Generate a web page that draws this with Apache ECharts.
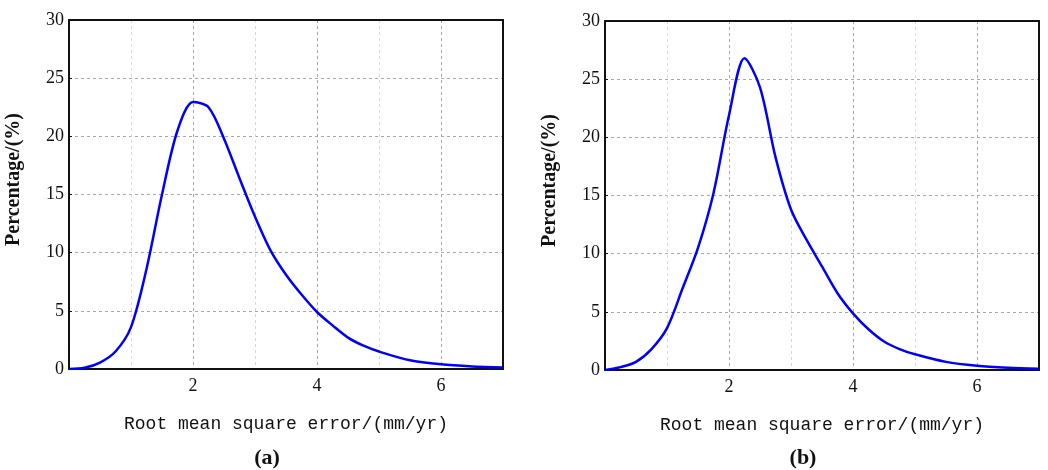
<!DOCTYPE html>
<html>
<head>
<meta charset="utf-8">
<script src="https://cdn.jsdelivr.net/npm/echarts@6/dist/echarts.min.js"></script>
<style>
  html, body { margin: 0; padding: 0; background: #fff; }
  #chart { width: 1048px; height: 470px; }
</style>
</head>
<body>
<div id="chart"></div>
<script>
// RMSE sample positions (mm/yr), shared by both panels
const rmse = [0, 0.25, 0.5, 0.75, 1.0, 1.25, 1.5, 1.75, 2.0, 2.25, 2.5, 2.75, 3.0, 3.25, 3.5, 3.75, 4.0, 4.25, 4.5, 4.75, 5.0, 5.5, 6.0, 6.5, 7.0];

// Panel (a) percentages
const pctA = [0, 0.1, 0.55, 1.5, 3.6, 8.6, 15, 20.5, 22.95, 22.5, 19.8, 16.4, 13.1, 10.2, 8.1, 6.4, 4.9, 3.75, 2.7, 2.0, 1.5, 0.75, 0.4, 0.22, 0.12];

// Panel (b) percentages
const pctB = [0, 0.25, 0.7, 1.8, 3.6, 7.0, 10.5, 15.2, 21.9, 26.8, 24.3, 18.3, 13.8, 11.2, 8.9, 6.6, 4.87, 3.5, 2.45, 1.8, 1.35, 0.7, 0.37, 0.2, 0.1];

const xLabels = [2, 4, 6];
const panelTags = ['a', 'b'];
const xTitle = 'Root mean square error/(mm/yr)';
const yTitle = 'Percentage/(%)';

const chart = echarts.init(document.getElementById('chart'));

function makeXAxis(gridIndex) {
  return {
    type: 'value',
    gridIndex: gridIndex,
    min: 0,
    max: 7,
    interval: 1,
    name: xTitle,
    nameLocation: 'middle',
    nameGap: 46,
    nameTextStyle: { fontFamily: 'Liberation Mono', fontSize: 18, color: '#111' },
    axisLine: { lineStyle: { color: '#111', width: 2 } },
    axisTick: { show: false },
    axisLabel: {
      fontFamily: 'Liberation Serif',
      fontSize: 18,
      color: '#111',
      margin: 8,
      formatter: v => (xLabels.indexOf(v) >= 0 ? String(v) : '')
    },
    splitLine: {
      show: true,
      lineStyle: { color: ['#a8a8a8', '#d8d8d8'], type: [3, 3], width: 1 }
    }
  };
}

function makeYAxis(gridIndex) {
  return {
    type: 'value',
    gridIndex: gridIndex,
    min: 0,
    max: 30,
    interval: 5,
    name: yTitle,
    nameLocation: 'middle',
    nameGap: 45,
    nameTextStyle: {
      fontFamily: 'Liberation Serif',
      fontWeight: 'bold',
      fontSize: 20,
      color: '#111',
      padding: [0, 0, 0, 30]
    },
    axisLine: { lineStyle: { color: '#111', width: 2 } },
    axisTick: { show: true, inside: true, length: 3, lineStyle: { color: '#111' } },
    axisLabel: { fontFamily: 'Liberation Serif', fontSize: 18, color: '#111', margin: 5 },
    splitLine: { show: true, lineStyle: { color: '#a8a8a8', type: [3, 3], width: 1 } }
  };
}

// plain frame lines on the top and right side
function frameAxis(kind, gridIndex) {
  return {
    type: 'value',
    gridIndex: gridIndex,
    position: kind === 'x' ? 'top' : 'right',
    min: 0,
    max: kind === 'x' ? 7 : 30,
    axisLine: { show: true, onZero: false, lineStyle: { color: '#111', width: 2 } },
    axisTick: { show: false },
    axisLabel: { show: false },
    splitLine: { show: false }
  };
}

function makeSeries(idx, xs, ys) {
  return {
    type: 'line',
    xAxisIndex: idx,
    yAxisIndex: idx,
    data: xs.map((x, i) => [x, ys[i]]),
    smooth: 0.3,
    showSymbol: false,
    lineStyle: { color: '#0000ff', width: 2.5 },
    z: 5
  };
}

const option = {
  backgroundColor: '#fff',
  animation: false,
  title: panelTags.map((t, i) => ({
    text: '{p|(}{b|' + t + '}{p|)}',
    left: i === 0 ? 262 : 798,
    top: 442,
    textAlign: 'center',
    textStyle: {
      rich: {
        p: { fontFamily: 'Liberation Serif', fontSize: 22, color: '#111' },
        b: { fontFamily: 'Liberation Serif', fontSize: 22, fontWeight: 'bold', color: '#111' }
      }
    }
  })),
  grid: [
    { left: 69, top: 20, width: 434, height: 349 },
    { left: 605, top: 21, width: 434, height: 349 }
  ],
  xAxis: [makeXAxis(0), makeXAxis(1), frameAxis('x', 0), frameAxis('x', 1)],
  yAxis: [makeYAxis(0), makeYAxis(1), frameAxis('y', 0), frameAxis('y', 1)],
  series: [makeSeries(0, rmse, pctA), makeSeries(1, rmse, pctB)]
};

chart.setOption(option);
</script>
</body>
</html>
